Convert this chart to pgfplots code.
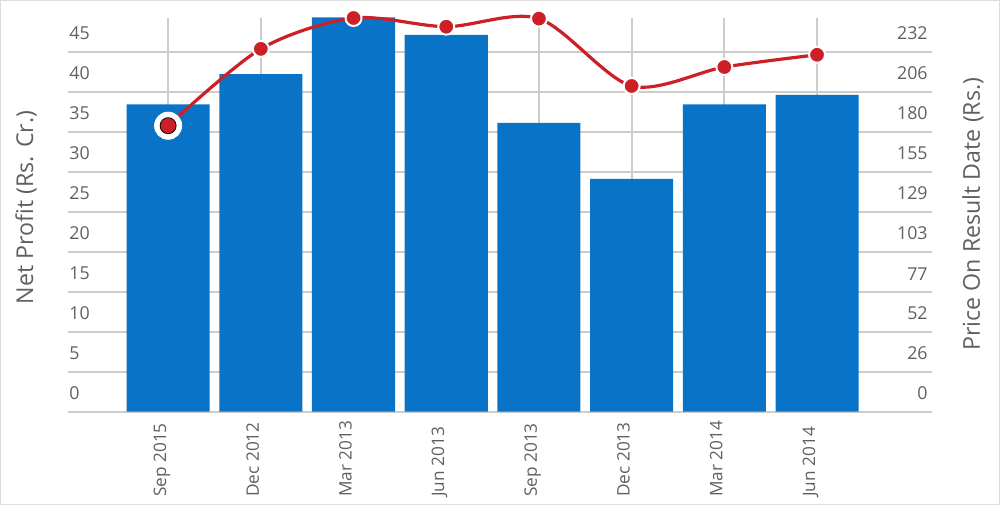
\documentclass[border=0pt]{standalone}
\usepackage{fontspec}
\setmainfont{Open Sans}
\usepackage{pgfplots}
\pgfplotsset{compat=1.18}
\definecolor{barblue}{RGB}{9,116,199}
\definecolor{linered}{RGB}{204,32,38}
\definecolor{gridgray}{RGB}{204,204,204}
\definecolor{txtgray}{RGB}{96,96,96}
\definecolor{framegray}{RGB}{221,221,221}
\begin{document}
\begin{tikzpicture}[x=1pt,y=1pt]
\useasboundingbox (0,0) rectangle (500,252.5);
\draw[framegray, line width=0.7pt] (0.35,0.35) rectangle (499.65,252.15);
\pgfplotsset{common/.style={
  scale only axis, width=432pt, height=196.85pt,
  at={(34pt,46.65pt)}, anchor=south west,
  xmin=-1.08, xmax=8.24, clip=false,
  major tick length=0pt, minor tick num=0,
  axis line style={draw=none},
  /pgf/number format/assume math mode=true,
  tick label style={font=\fontsize{8.9}{10}\selectfont, text=txtgray},
}}
\begin{axis}[common,
  ymin=0, ymax=49.21,
  ytick={0,5,10,15,20,25,30,35,40,45},
  xtick={0,1,2,3,4,5,6,7},
  xticklabels={Sep 2015, Dec 2012, Mar 2013, Jun 2013, Sep 2013, Dec 2013, Mar 2014, Jun 2014},
  xmajorgrids, ymajorgrids,
  grid style={gridgray, line width=1pt},
  yticklabel style={anchor=south west, inner sep=0pt, xshift=0.5pt, yshift=5.6pt},
  xticklabel style={font=\fontsize{8.6}{10}\selectfont, xshift=-1pt, yshift=-42.65pt, rotate=90, anchor=base west, inner sep=0pt},
  every axis y label/.style={at={(rel axis cs:0,0.519)}, xshift=-21pt, rotate=90, anchor=center, font=\fontsize{11.6}{13}\selectfont, text=txtgray},
  ylabel={Net Profit (Rs. Cr.)},
]
\addplot[ybar, bar width=0.896, fill=barblue, draw=none] coordinates {
  (0,38.4) (1,42.2) (2,49.3) (3,47.1) (4,36.1) (5,29.1) (6,38.4) (7,39.6)
};
\end{axis}
\begin{axis}[common,
  ymin=0, ymax=253.7,
  axis y line*=right, axis x line=none,
  ytick={0,25.778,51.556,77.333,103.111,128.889,154.667,180.444,206.222,232},
  yticklabels={0,26,52,77,103,129,155,180,206,232},
  yticklabel style={anchor=south east, inner sep=0pt, xshift=-2pt, yshift=5.6pt},
  every axis y label/.style={at={(rel axis cs:1,0.502)}, xshift=20.5pt, rotate=90, anchor=center, font=\fontsize{11.6}{13}\selectfont, text=txtgray},
  ylabel={Price On Result Date (Rs.)},
]
\addplot[linered, line width=1.6pt, smooth, mark=*, mark size=4pt,
  mark options={fill=linered, draw=white, line width=1pt}] coordinates {
  (0,184.3) (1,233.8) (2,253.7) (3,248.1) (4,253.3) (5,209.9) (6,222.1) (7,230.0)
};
\addplot[only marks, mark=*, mark size=6.8pt, mark options={fill=white, draw=white}] coordinates {(0,184.3)};
\addplot[only marks, mark=*, mark size=4pt, mark options={fill=linered, draw=none}] coordinates {(0,184.3)};
\end{axis}
\end{tikzpicture}
\end{document}
